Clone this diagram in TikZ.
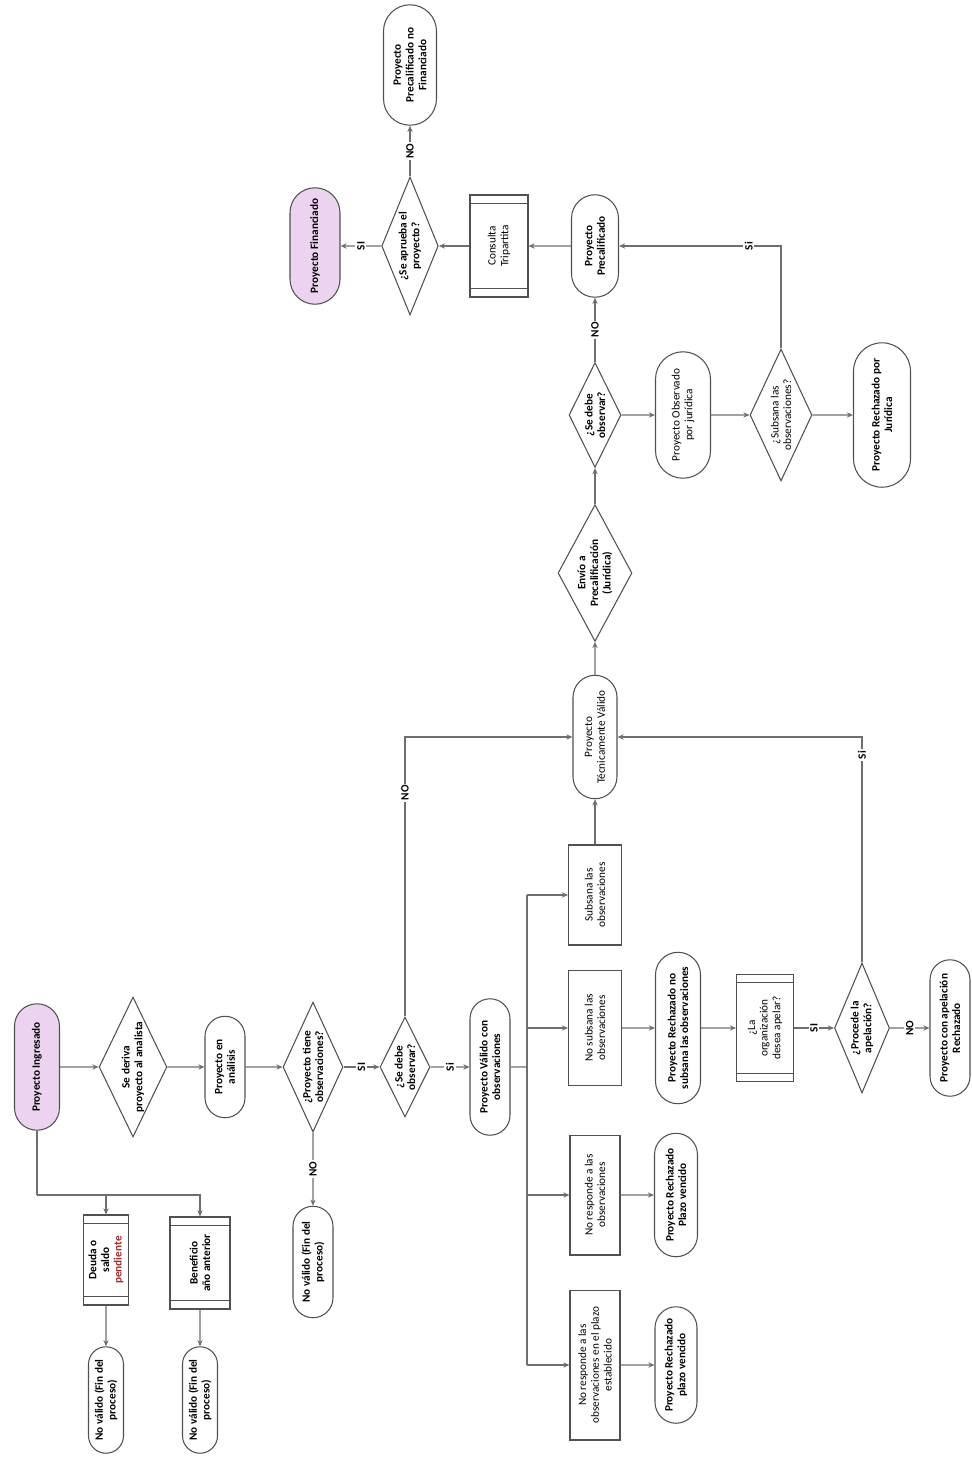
\documentclass[tikz,border=0pt]{standalone}
\usepackage{fontspec}
\setmainfont{Carlito}
\usetikzlibrary{shapes.geometric,shapes.misc,arrows.meta,calc}
\definecolor{linea}{RGB}{110,110,110}
\definecolor{borde}{RGB}{80,80,80}
\definecolor{lila}{RGB}{236,212,240}
\definecolor{rojo}{RGB}{165,40,40}
\tikzset{
  base/.style={draw=borde, line width=0.6pt, rotate=90, align=center, inner sep=1pt,
    font=\fontsize{6.4}{7.2}\selectfont\bfseries},
  fino/.style={font=\fontsize{6.4}{7.2}\selectfont},
  term/.style={base, rounded rectangle},
  inicio/.style={term, fill=lila},
  caja/.style={base, rectangle},
  decision/.style={base, diamond, aspect=2, inner sep=0pt},
  flecha/.style={draw=linea, line width=0.65pt, -{Stealth[length=3.5pt,width=3pt]}},
  tramo/.style={draw=linea, line width=0.65pt},
  etiq/.style={rotate=90, fill=white, inner sep=1pt, font=\fontsize{6.4}{7.2}\selectfont\bfseries},
}
\newcommand{\barras}[1]{%
  \draw[borde, line width=0.6pt]
    ($(#1.north west)!5pt!(#1.north east)$) -- ($(#1.south west)!5pt!(#1.south east)$)
    ($(#1.north east)!5pt!(#1.north west)$) -- ($(#1.south east)!5pt!(#1.south west)$);}

\begin{document}
\begin{tikzpicture}[x=0.02cm, y=-0.02cm]
        \useasboundingbox (0,0) rectangle (971,1464);

        \node[inicio, minimum width=2.6cm, minimum height=0.9cm] (ingresado) at (37,1067) {Proyecto Ingresado};
        \node[decision, minimum width=2.8cm, minimum height=1.3cm] (deriva) at (133,1067) {Se deriva\\proyecto al analista};
        \node[term, minimum width=2.1cm, minimum height=0.8cm] (analisis) at (225,1067) {Proyecto en\\análisis};
        \node[decision, minimum width=2.6cm, minimum height=1.2cm] (tieneobs) at (313,1067) {¿Proyecto tiene\\observaciones?};
        \node[decision, minimum width=2.0cm, minimum height=1.0cm] (debeobs) at (405,1067) {¿Se debe\\observar?};
        \node[term, minimum width=2.8cm, minimum height=0.8cm] (validoobs) at (490,1067) {Proyecto Válido con\\observaciones};
        \node[term, minimum width=2.3cm, minimum height=0.8cm] (novalido) at (313,1262) {No válido (Fin del\\proceso)};

        \node[caja, minimum width=1.8cm, minimum height=0.9cm] (deuda) at (106,1260) {Deuda o\\saldo\\\textcolor{rojo}{pendiente}};
        \node[caja, minimum width=1.84cm, minimum height=1.2cm] (beneficio) at (200,1263) {Beneficio\\año anterior};
        \node[term, minimum width=2.2cm, minimum height=0.7cm] (novalidoa) at (106,1400) {No válido (Fin del\\proceso)};
        \node[term, minimum width=2.2cm, minimum height=0.7cm] (novalidob) at (200,1400) {No válido (Fin del\\proceso)};
        \barras{deuda}
        \barras{beneficio}

        \node[caja, fino, minimum width=2.0cm, minimum height=1.06cm] (subsana) at (595,895) {Subsana las\\observaciones};
        \node[caja, fino, minimum width=2.3cm, minimum height=1.06cm] (nosubsana) at (595,1028) {No subsana las\\observaciones};
        \node[caja, fino, minimum width=2.4cm, minimum height=1.0cm] (noresponde) at (595,1195) {No responde a las\\observaciones};
        \node[caja, fino, minimum width=3.0cm, minimum height=1.0cm] (noplazo) at (595,1365) {No responde a las\\observaciones en el plazo\\establecido};
        \node[term, minimum width=3.1cm, minimum height=0.9cm] (rechnosub) at (678,1028) {Proyecto Rechazado no\\subsana las observaciones};
        \node[term, minimum width=2.54cm, minimum height=0.86cm] (rechplazoa) at (676,1195) {Proyecto Rechazado\\Plazo vencido};
        \node[term, minimum width=2.4cm, minimum height=0.84cm] (rechplazob) at (676,1365) {Proyecto Rechazado\\plazo vencido};
        \node[caja, fino, minimum width=2.14cm, minimum height=1.14cm] (apelar) at (765,1028) {¿La\\organización\\desea apelar?};
        \node[decision, minimum width=2.6cm, minimum height=1.1cm] (procede) at (862,1028) {¿Procede la\\apelación?};
        \node[term, minimum width=2.8cm, minimum height=0.8cm] (aperech) at (950,1028) {Proyecto con apelación\\Rechazado};
        \barras{apelar}

        \node[term, fino, minimum width=2.54cm, minimum height=0.88cm] (tecvalido) at (595,737) {Proyecto\\Técnicamente Válido};
        \node[decision, minimum width=2.66cm, minimum height=1.48cm] (envio) at (595,573) {Envío a\\Precalificación\\(Jurídica)};
        \node[decision, minimum width=2.1cm, minimum height=1.04cm] (debeobsj) at (595,415) {¿Se debe\\observar?};
        \node[term, fino, minimum width=2.6cm, minimum height=1.1cm] (obsjur) at (683,415) {Proyecto Observado\\por jurídica};
        \node[decision, fino, minimum width=2.64cm, minimum height=1.24cm] (subsanaj) at (781,415) {¿Subsana las\\observaciones?};
        \node[term, minimum width=2.96cm, minimum height=1.14cm] (rechjur) at (882,415) {Proyecto Rechazado por\\Jurídica};
        \node[term, minimum width=2.12cm, minimum height=0.94cm] (precal) at (595,246) {Proyecto\\Precalificado};
        \node[caja, fino, minimum width=2.04cm, minimum height=1.16cm] (tripartita) at (499,246) {Consulta\\Tripartita};
        \node[decision, minimum width=2.76cm, minimum height=1.0cm] (aprueba) at (410,246) {¿Se aprueba el\\proyecto?};
        \node[inicio, minimum width=2.4cm, minimum height=1.0cm] (financiado) at (315,246) {Proyecto Financiado};
        \node[term, minimum width=2.48cm, minimum height=1.06cm] (nofinanciado) at (410,65) {Proyecto\\Precalificado no\\Financiado};
        \barras{tripartita}

        \coordinate (ramal) at (37,1195);
        \coordinate (bus) at (527,1067);
        \coordinate (bustop) at (527,895);
        \coordinate (busbot) at (527,1365);

        \draw[flecha] (ingresado) -- (deriva);
        \draw[flecha] (deriva) -- (analisis);
        \draw[flecha] (analisis) -- (tieneobs);
        \draw[flecha] (tieneobs) -- node[etiq] (si1) {SI} (debeobs);
        \draw[flecha] (tieneobs) -- node[etiq] (no1) {NO} (novalido);
        \draw[flecha] (debeobs) -- node[etiq] (si2) {Si} (validoobs);
        \draw[flecha] (debeobs) |- node[etiq, pos=0.4] (no2) {NO} (tecvalido);

        \draw[tramo] (ingresado) -- (ramal);
        \draw[flecha] (ramal) -| (beneficio);
        \draw[flecha] (ramal -| deuda) -- (deuda);
        \draw[flecha] (deuda) -- (novalidoa);
        \draw[flecha] (beneficio) -- (novalidob);

        \draw[tramo] (validoobs) -- (bus);
        \draw[tramo] (bustop) -- (busbot);
        \draw[flecha] (bustop) -- (subsana);
        \draw[flecha] (bus |- nosubsana) -- (nosubsana);
        \draw[flecha] (bus |- noresponde) -- (noresponde);
        \draw[flecha] (busbot) -- (noplazo);
        \draw[flecha] (nosubsana) -- (rechnosub);
        \draw[flecha] (noresponde) -- (rechplazoa);
        \draw[flecha] (noplazo) -- (rechplazob);
        \draw[flecha] (rechnosub) -- (apelar);
        \draw[flecha] (apelar) -- node[etiq] (si3) {SI} (procede);
        \draw[flecha] (procede) -- node[etiq] (no3) {NO} (aperech);
        \draw[flecha] (procede) |- node[etiq, pos=0.46] (si4) {Si} (tecvalido);
        \draw[flecha] (subsana) -- (tecvalido);

        \draw[flecha] (tecvalido) -- (envio);
        \draw[flecha] (envio) -- (debeobsj);
        \draw[flecha] (debeobsj) -- node[etiq] (no4) {NO} (precal);
        \draw[flecha] (debeobsj) -- (obsjur);
        \draw[flecha] (obsjur) -- (subsanaj);
        \draw[flecha] (subsanaj) -- (rechjur);
        \draw[flecha] (subsanaj) |- node[etiq, pos=0.6] (si5) {Si} (precal);
        \draw[flecha] (precal) -- (tripartita);
        \draw[flecha] (tripartita) -- (aprueba);
        \draw[flecha] (aprueba) -- node[etiq] (si6) {SI} (financiado);
        \draw[flecha] (aprueba) -- node[etiq] (no5) {NO} (nofinanciado);
\end{tikzpicture}
\end{document}
